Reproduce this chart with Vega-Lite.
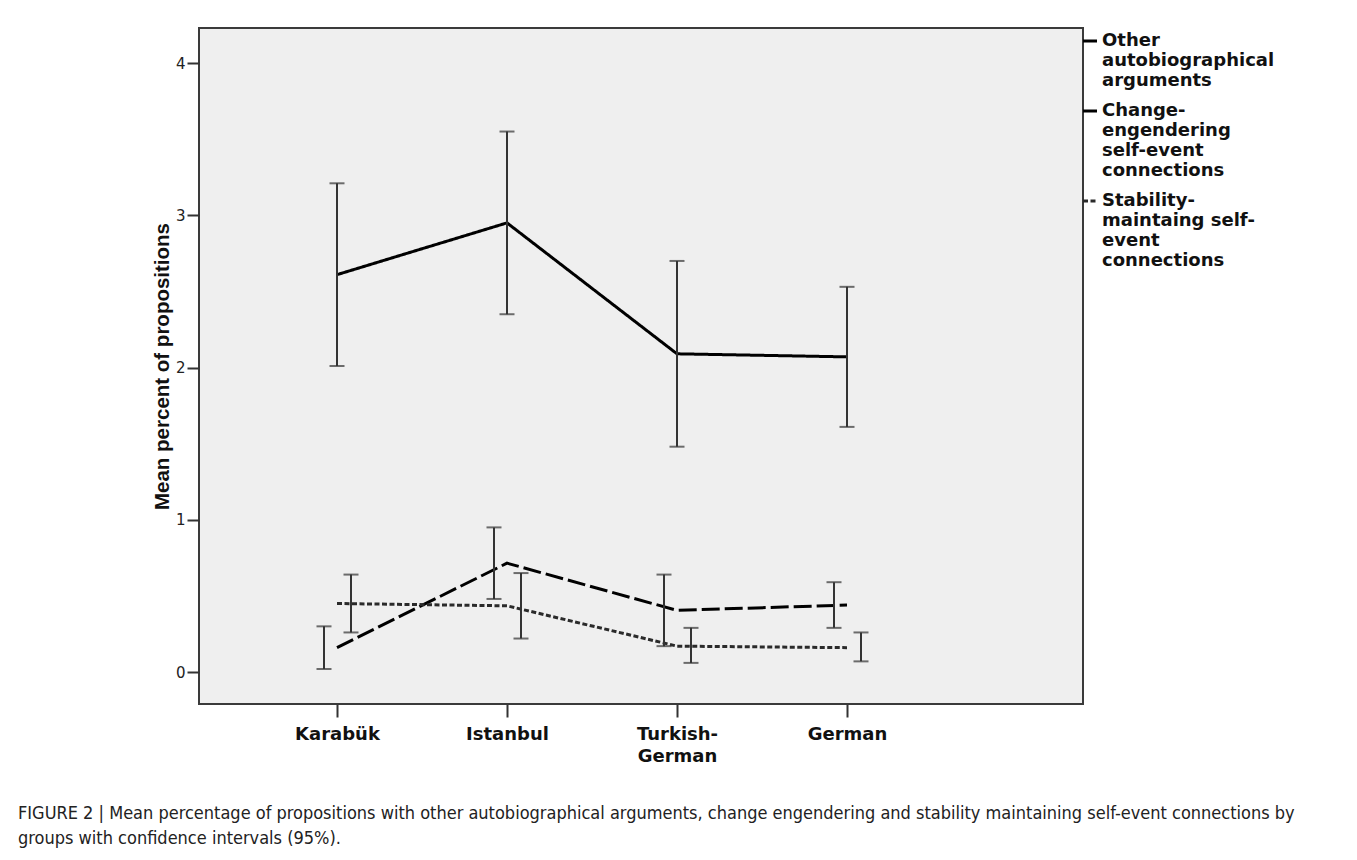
{
  "$schema": "https://vega.github.io/schema/vega-lite/v6.json",
  "width": 884,
  "height": 676,
  "autosize": {"type": "none"},
  "padding": {"left": 199, "top": 28, "right": 274, "bottom": 156},
  "background": "white",
  "config": {
    "view": {"fill": "#efefef", "stroke": "#3a3a3a", "strokeWidth": 2},
    "axisX": {"domain": false, "grid": false, "tickSize": 13, "tickWidth": 2, "tickColor": "#333", "labelFont": "DejaVu Sans", "labelFontWeight": "bold", "labelFontSize": 18, "labelColor": "#111", "labelPadding": 8, "labelLineHeight": 22, "labelAngle": 0},
    "axisY": {"domain": false, "grid": false, "tickSize": 12, "tickWidth": 2, "tickColor": "#333", "labelFont": "DejaVu Sans", "labelFontSize": 15, "labelColor": "#222", "labelPadding": 2, "titleFont": "Liberation Sans", "titleFontWeight": "bold", "titleFontSize": 20.5, "titleColor": "#111", "titlePadding": 3}
  },
  "title": {
    "text": ["FIGURE 2 | Mean percentage of propositions with other autobiographical arguments, change engendering and stability maintaining self-event connections by", "groups with confidence intervals (95%)."],
    "orient": "bottom",
    "anchor": "start",
    "frame": "group",
    "dx": -181,
    "offset": 40,
    "font": "Liberation Sans Narrow, DejaVu Sans Condensed, sans-serif",
    "fontSize": 18,
    "fontWeight": "normal",
    "color": "#222",
    "lineHeight": 25
  },
  "data": {
    "values": [
      {"group": "Karabük", "series": "Other autobiographical arguments", "mean": 2.61, "lo": 2.01, "hi": 3.21},
      {"group": "Istanbul", "series": "Other autobiographical arguments", "mean": 2.95, "lo": 2.35, "hi": 3.55},
      {"group": "Turkish-German", "series": "Other autobiographical arguments", "mean": 2.09, "lo": 1.48, "hi": 2.70},
      {"group": "German", "series": "Other autobiographical arguments", "mean": 2.07, "lo": 1.61, "hi": 2.53},
      {"group": "Karabük", "series": "Change-engendering self-event connections", "mean": 0.16, "lo": 0.02, "hi": 0.30},
      {"group": "Istanbul", "series": "Change-engendering self-event connections", "mean": 0.715, "lo": 0.48, "hi": 0.95},
      {"group": "Turkish-German", "series": "Change-engendering self-event connections", "mean": 0.405, "lo": 0.17, "hi": 0.64},
      {"group": "German", "series": "Change-engendering self-event connections", "mean": 0.44, "lo": 0.29, "hi": 0.59},
      {"group": "Karabük", "series": "Stability-maintaing self-event connections", "mean": 0.45, "lo": 0.26, "hi": 0.64},
      {"group": "Istanbul", "series": "Stability-maintaing self-event connections", "mean": 0.435, "lo": 0.22, "hi": 0.65},
      {"group": "Turkish-German", "series": "Stability-maintaing self-event connections", "mean": 0.17, "lo": 0.06, "hi": 0.29},
      {"group": "German", "series": "Stability-maintaing self-event connections", "mean": 0.16, "lo": 0.07, "hi": 0.26}
    ]
  },
  "encoding": {
    "x": {
      "field": "group",
      "type": "ordinal",
      "sort": ["Karabük", "Istanbul", "Turkish-German", "German"],
      "scale": {"type": "point", "range": [138, 648], "padding": 0},
      "axis": {"title": null, "labelBaseline": "top", "labelExpr": "datum.value == 'Turkish-German' ? ['Turkish-', 'German'] : datum.value"}
    }
  },
  "layer": [
    {
      "mark": {"type": "line"},
      "encoding": {
        "y": {"field": "mean", "type": "quantitative", "title": "Mean percent of propositions", "scale": {"domain": [-0.21, 4.23], "nice": false, "zero": false}, "axis": {"values": [0, 1, 2, 3, 4], "format": "d"}},
        "strokeDash": {
          "field": "series",
          "type": "nominal",
          "scale": {
            "domain": ["Other autobiographical arguments", "Change-engendering self-event connections", "Stability-maintaing self-event connections"],
            "range": [[1, 0], [18, 5], [5, 2.5]]
          },
          "legend": {
            "title": null,
            "orient": "none",
            "legendX": 882,
            "legendY": 4,
            "symbolType": "stroke",
            "symbolSize": 196,
            "labelFont": "DejaVu Sans",
            "labelFontWeight": "bold",
            "labelFontSize": 18,
            "labelColor": "#111",
            "labelLimit": 0,
            "labelOffset": 3,
            "rowPadding": 12,
            "labelExpr": "datum.value == 'Other autobiographical arguments' ? ['Other', 'autobiographical', 'arguments'] : datum.value == 'Change-engendering self-event connections' ? ['Change-', 'engendering', 'self-event', 'connections'] : ['Stability-', 'maintaing self-', 'event', 'connections']"
          }
        },
        "strokeWidth": {
          "field": "series",
          "type": "nominal",
          "scale": {
            "domain": ["Other autobiographical arguments", "Change-engendering self-event connections", "Stability-maintaing self-event connections"],
            "range": [3, 3, 1.8]
          }
        },
        "color": {
          "field": "series",
          "type": "nominal",
          "scale": {
            "domain": ["Other autobiographical arguments", "Change-engendering self-event connections", "Stability-maintaing self-event connections"],
            "range": ["#000000", "#000000", "#2a2a2a"]
          }
        }
      }
    },
    {
      "transform": [{"filter": "datum.series == 'Other autobiographical arguments'"}],
      "layer": [
        {"mark": {"type": "rule", "color": "#333", "strokeWidth": 2}, "encoding": {"y": {"field": "lo", "type": "quantitative", "title": "Mean percent of propositions"}, "y2": {"field": "hi"}}},
        {"transform": [{"fold": ["lo", "hi"], "as": ["end", "v"]}], "mark": {"type": "tick", "color": "#333", "size": 15, "thickness": 2}, "encoding": {"y": {"field": "v", "type": "quantitative", "title": "Mean percent of propositions"}}}
      ]
    },
    {
      "transform": [{"filter": "datum.series == 'Change-engendering self-event connections'"}],
      "layer": [
        {"mark": {"type": "rule", "color": "#333", "strokeWidth": 2, "xOffset": -13}, "encoding": {"y": {"field": "lo", "type": "quantitative", "title": "Mean percent of propositions"}, "y2": {"field": "hi"}}},
        {"transform": [{"fold": ["lo", "hi"], "as": ["end", "v"]}], "mark": {"type": "tick", "color": "#333", "size": 15, "thickness": 2, "xOffset": -13}, "encoding": {"y": {"field": "v", "type": "quantitative", "title": "Mean percent of propositions"}}}
      ]
    },
    {
      "transform": [{"filter": "datum.series == 'Stability-maintaing self-event connections'"}],
      "layer": [
        {"mark": {"type": "rule", "color": "#333", "strokeWidth": 2, "xOffset": 14}, "encoding": {"y": {"field": "lo", "type": "quantitative", "title": "Mean percent of propositions"}, "y2": {"field": "hi"}}},
        {"transform": [{"fold": ["lo", "hi"], "as": ["end", "v"]}], "mark": {"type": "tick", "color": "#333", "size": 15, "thickness": 2, "xOffset": 14}, "encoding": {"y": {"field": "v", "type": "quantitative", "title": "Mean percent of propositions"}}}
      ]
    }
  ]
}
